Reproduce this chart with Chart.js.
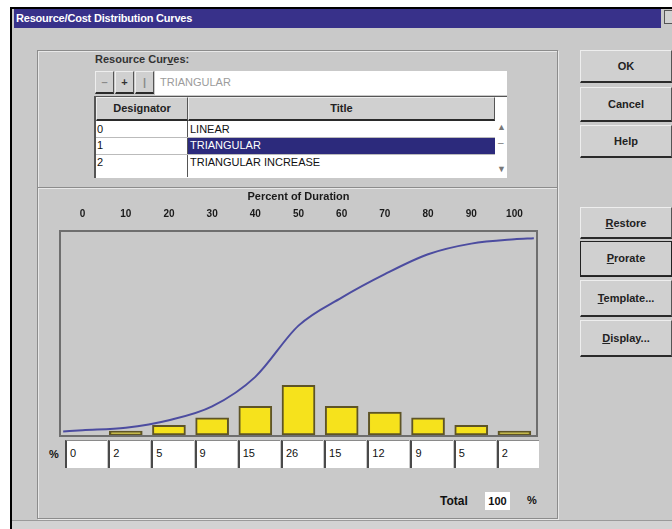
<!DOCTYPE html>
<html>
<head>
<meta charset="utf-8">
<script src="https://cdn.jsdelivr.net/npm/chart.js@4"></script>
<style>
  html, body { margin:0; padding:0; }
  body { width:672px; height:529px; overflow:hidden; position:relative; background:#fff;
         font-family:"Liberation Sans", Arial, sans-serif; font-size:11px; color:#111; }
  .abs { position:absolute; box-sizing:border-box; }
  #win { left:10px; top:7px; width:680px; height:540px; background:#c9c9c9;
         border-left:2px solid #000; border-top:2px solid #000; }
  #titlebar { left:14px; top:9px; width:647px; height:19px; background:#38318a; color:#fff;
              font-weight:bold; font-size:11px; line-height:19px; padding-left:2px; letter-spacing:-0.2px; }
  #closebtn { left:664px; top:10px; width:14px; height:14px; background:#d2d2d2; border:1px solid #555; }
  .etch { border:1px solid #8c8c8c; box-shadow: inset 1px 1px 0 #e8e8e8, 1px 1px 0 #e8e8e8; }
  .hline { height:2px; border-top:1px solid #8c8c8c; border-bottom:1px solid #e8e8e8; }
  .btn { background:#d0d0d0; border-top:1px solid #eee; border-left:1px solid #eee;
         border-bottom:2px solid #2a2a2a; border-right:1px solid #555; text-align:center; font-size:11px; font-weight:bold; color:#222; }
  .u { text-decoration:underline; }
  .cell { white-space:nowrap; overflow:hidden; }
  #plotframe { left:59px; top:230px; width:479px; height:207px; border:2px solid #6e6e6e; background:#c9c9c9; }
  #chartCanvas { position:absolute; left:61px; top:186px; }
  .pbox { position:absolute; top:440px; height:28px; background:#fff; border-left:2px solid #4a4a4a;
          border-top:1px solid #8a8a8a; box-sizing:border-box; padding:6px 0 0 3px; font-size:11px; }
</style>
</head>
<body>
<div class="abs" id="win"></div>
<div class="abs" id="titlebar">Resource/Cost Distribution Curves</div>
<div class="abs" id="closebtn"></div>

<!-- group boxes -->
<div class="abs etch" style="left:37px;top:50px;width:521px;height:469px;"></div>
<div class="abs hline" style="left:38px;top:187px;width:519px;"></div>
<div class="abs" style="top:520px;width:672px;height:9px;background:#d3d3d3;border-top:1px solid #9a9a9a;left:12px;"></div>

<!-- resource curves -->
<div class="abs" style="left:95px;top:53px;font-weight:bold;color:#333;">Resource Cur<span class="u">v</span>es:</div>
<div class="abs btn" style="left:95px;top:71px;width:19px;height:23px;line-height:20px;color:#8a8a8a;">–</div>
<div class="abs btn" style="left:115px;top:71px;width:19px;height:23px;line-height:20px;color:#333;">+</div>
<div class="abs btn" style="left:135px;top:71px;width:19px;height:23px;line-height:20px;color:#8a8a8a;">|</div>
<div class="abs" style="left:155px;top:71px;width:352px;height:24px;background:#fff;color:#9c9c9c;padding:5px 0 0 5px;">TRIANGULAR</div>

<div class="abs" style="left:94px;top:96px;width:413px;height:82px;background:#fff;border-left:2px solid #555;border-top:1px solid #555;"></div>
<div class="abs btn" style="left:96px;top:97px;width:92px;height:24px;line-height:20px;">Designator</div>
<div class="abs btn" style="left:188px;top:97px;width:307px;height:24px;line-height:20px;">Title</div>
<div class="abs cell" style="left:97px;top:121px;width:90px;height:16px;line-height:16px;">0</div>
<div class="abs cell" style="left:188px;top:121px;width:307px;height:16px;line-height:16px;padding-left:2px;">LINEAR</div>
<div class="abs cell" style="left:97px;top:137px;width:90px;height:16px;line-height:16px;">1</div>
<div class="abs cell" style="left:188px;top:137px;width:307px;height:17px;line-height:17px;padding-left:2px;background:#2c2a7c;color:#fff;">TRIANGULAR</div>
<div class="abs cell" style="left:97px;top:154px;width:90px;height:16px;line-height:16px;">2</div>
<div class="abs cell" style="left:188px;top:154px;width:307px;height:16px;line-height:16px;padding-left:2px;">TRIANGULAR INCREASE</div>
<div class="abs" style="left:187px;top:121px;width:1px;height:56px;background:#555;"></div>
<div class="abs" style="left:96px;top:137px;width:399px;height:1px;background:#bbb;"></div>
<div class="abs" style="left:96px;top:154px;width:399px;height:1px;background:#bbb;"></div>
<div class="abs" style="left:497px;top:122px;font-size:9px;color:#777;">▲</div>
<div class="abs" style="left:498px;top:137px;font-size:10px;color:#777;">–</div>
<div class="abs" style="left:497px;top:164px;font-size:9px;color:#777;">▼</div>

<!-- chart -->
<div class="abs" id="plotframe"></div>
<canvas id="chartCanvas" width="475" height="249"></canvas>

<div class="abs" style="left:49px;top:448px;font-weight:bold;">%</div>
<div id="pboxes"></div>
<div class="abs" style="left:440px;top:494px;font-weight:bold;font-size:12px;">Total</div>
<div class="abs" id="totalBox" style="left:485px;top:492px;width:25px;height:18px;background:#fff;text-align:center;font-weight:bold;line-height:18px;"></div>
<div class="abs" style="left:527px;top:494px;font-weight:bold;">%</div>

<!-- right buttons -->
<div class="abs btn" style="left:580px;top:50px;width:92px;height:33px;line-height:31px;">OK</div>
<div class="abs btn" style="left:580px;top:87px;width:92px;height:35px;line-height:33px;">Cancel</div>
<div class="abs btn" style="left:580px;top:125px;width:92px;height:33px;line-height:31px;">Help</div>
<div class="abs btn" style="left:580px;top:207px;width:92px;height:32px;line-height:30px;"><span class="u">R</span>estore</div>
<div class="abs btn" style="left:580px;top:241px;width:92px;height:36px;line-height:32px;outline:1px solid #222;outline-offset:-1px;"><span class="u">P</span>rorate</div>
<div class="abs btn" style="left:580px;top:280px;width:92px;height:37px;line-height:35px;"><span class="u">T</span>emplate...</div>
<div class="abs btn" style="left:580px;top:320px;width:92px;height:37px;line-height:35px;"><span class="u">D</span>isplay...</div>

<script>
// ---- data ----
const durationLabels = ['0','10','20','30','40','50','60','70','80','90','100'];
const percentValues  = [0, 2, 5, 9, 15, 26, 15, 12, 9, 5, 2];
// cumulative curve (x = percent of duration, y = cumulative %)
const curveX = [-4.5, 0, 10, 20, 30, 40, 50, 60, 70, 80, 90, 100, 104.5];
const curveY = [1.8, 2.4, 3.7, 7.5, 14.5, 29.5, 55.5, 69.7, 81.6, 91.7, 97.1, 99.3, 99.8];

const curvePoints = curveX.map((x, i) => ({ x: x, y: curveY[i] }));

const chart = new Chart(document.getElementById('chartCanvas'), {
  type: 'bar',
  data: {
    labels: durationLabels,
    datasets: [
      {
        type: 'line',
        data: curvePoints,
        xAxisID: 'xLine',
        yAxisID: 'y',
        borderColor: '#4c4ca0',
        borderWidth: 2,
        pointRadius: 0,
        cubicInterpolationMode: 'monotone',
        fill: false,
        order: 0
      },
      {
        type: 'bar',
        data: percentValues,
        xAxisID: 'x',
        yAxisID: 'yBar',
        backgroundColor: '#f6e21c',
        borderColor: '#5e5426',
        borderWidth: 2,
        borderSkipped: false,
        grouped: false,
        barThickness: 33,
        order: 1
      }
    ]
  },
  options: {
    responsive: false,
    animation: false,
    devicePixelRatio: 1,
    layout: { padding: 0 },
    plugins: { legend: { display: false }, tooltip: { enabled: false } },
    scales: {
      x: {
        type: 'category',
        position: 'top',
        offset: true,
        grid: { display: false, drawTicks: false, tickLength: 0 },
        border: { display: false },
        ticks: { color: '#1a1a1a', font: { family: 'Liberation Sans', size: 10, weight: 'bold' }, padding: 12, maxRotation: 0, autoSkip: false },
        title: { display: true, text: 'Percent of Duration', color: '#1a1a1a',
                 font: { family: 'Liberation Sans', size: 11, weight: 'bold' }, padding: { top: 4, bottom: 5 } },
        afterFit: (scale) => { scale.height = 46; }
      },
      xLine: { type: 'linear', min: -5, max: 105, offset: false, display: false, grid: { offset: false } },
      y: { type: 'linear', min: 0, max: 103, display: false },
      yBar: { type: 'linear', min: 0, max: 106, display: false }
    }
  }
});

// percent entry boxes, aligned to the chart's category scale
const xs = chart.scales.x;
const slot = (xs.right - xs.left) / durationLabels.length;
const canvasLeft = 61;
const holder = document.getElementById('pboxes');
percentValues.forEach((v, i) => {
  const cx = canvasLeft + xs.getPixelForTick(i);
  const d = document.createElement('div');
  d.className = 'pbox';
  d.style.left = (cx - slot / 2 + 4) + 'px';
  d.style.width = (slot - 1) + 'px';
  d.textContent = String(v);
  holder.appendChild(d);
});
document.getElementById('totalBox').textContent = String(percentValues.reduce((a, b) => a + b, 0));
</script>
</body>
</html>
